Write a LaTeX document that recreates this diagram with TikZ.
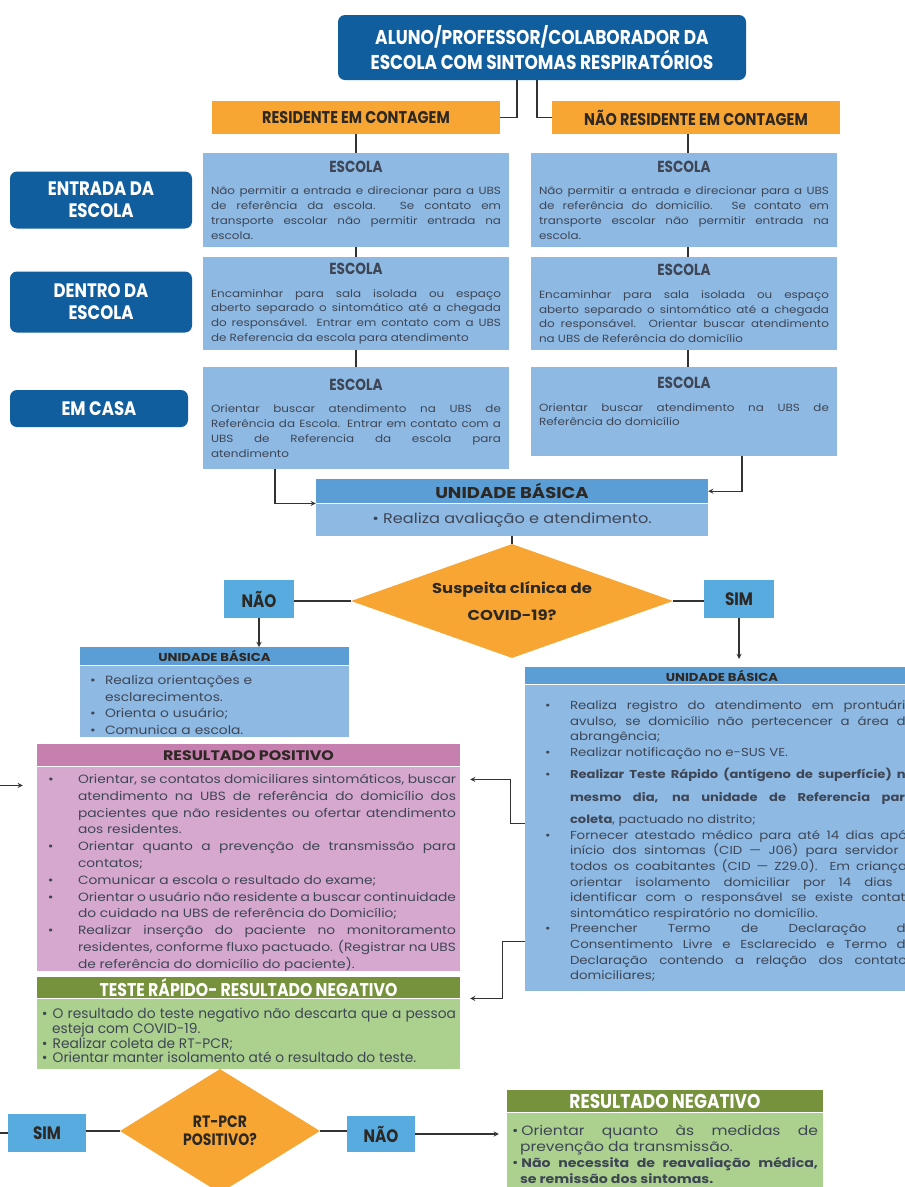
\documentclass[tikz,border=0pt]{standalone}
\usepackage{fontspec}
\setmainfont{Poppins}[FakeStretch=1.15]
\newfontfamily\headfont{Poppins}[FakeStretch=0.85]
\newfontfamily\plainfont{Poppins}
\usepackage{enumitem}
\setlist[itemize]{nosep, label=\textbullet, align=left}
\setlength{\parindent}{0pt}
\hyphenpenalty=10000
\exhyphenpenalty=10000
\usetikzlibrary{shapes.geometric, positioning}
\definecolor{escolaBlue}{RGB}{17, 94, 158}
\definecolor{contagemOrange}{RGB}{247, 166, 52}
\definecolor{boxBlue}{RGB}{141, 185, 227}
\definecolor{headBlue}{RGB}{91, 158, 213}
\definecolor{tagBlue}{RGB}{88, 171, 222}
\definecolor{posPink}{RGB}{214, 168, 208}
\definecolor{posHead}{RGB}{198, 128, 176}
\definecolor{negGreen}{RGB}{172, 209, 142}
\definecolor{negHead}{RGB}{118, 146, 60}
\definecolor{inkDark}{RGB}{45, 40, 35}
\definecolor{bodyInk}{RGB}{62, 70, 86}
\definecolor{lineGray}{RGB}{50, 50, 50}

\begin{document}
\begin{tikzpicture}[x=1pt, y=-1pt, >=stealth,
    link/.style={draw=lineGray, line width=1.3pt},
    navybox/.style={fill=escolaBlue, rounded corners=7pt, text=white, align=center, inner sep=0pt},
    contagem/.style={fill=contagemOrange, minimum height=33pt, text=inkDark, inner sep=0pt, font=\headfont\bfseries\fontsize{17}{20}\selectfont},
    escolabox/.style={fill=boxBlue, text width=290pt, inner xsep=8pt, inner ysep=4pt, align=justify, text=bodyInk, font=\fontsize{10.4}{14.8}\selectfont},
    answer/.style={fill=tagBlue, text=inkDark, inner sep=0pt, font=\headfont\bfseries\fontsize{18}{20}\selectfont},
    choice/.style={diamond, fill=contagemOrange, inner sep=0pt, align=center, text=inkDark},
    headbar/.style={inner sep=0pt, anchor=north, text=inkDark},
    listbox/.style={anchor=north, inner ysep=0pt, text=bodyInk}]
    \useasboundingbox[fill=white] (0,0) rectangle (905,1187);

    \node[navybox, minimum width=408pt, minimum height=65pt, font=\headfont\bfseries\fontsize{20}{22}\selectfont] (aluno) at (542,47.5) {ALUNO/PROFESSOR/COLABORADOR DA\\ESCOLA COM SINTOMAS RESPIRATÓRIOS};
    \node[contagem, minimum width=288pt] (res) at (356,117.5) {RESIDENTE EM CONTAGEM};
    \node[contagem, minimum width=288pt] (nres) at (696,117.5) {NÃO RESIDENTE EM CONTAGEM};

    \node[navybox, minimum width=182pt, minimum height=57pt, font=\headfont\bfseries\fontsize{19.5}{22}\selectfont] (entrada) at (101,200) {ENTRADA DA\\ESCOLA};
    \node[navybox, minimum width=182pt, minimum height=61pt, font=\headfont\bfseries\fontsize{19.5}{22}\selectfont] (dentro) at (101,302) {DENTRO DA\\ESCOLA};
    \node[navybox, minimum width=178pt, minimum height=37pt, font=\headfont\bfseries\fontsize{19.5}{22}\selectfont] (casa) at (99,408.5) {EM CASA};

    \node[escolabox, minimum height=94pt] (ent1) at (356,200) {{\centering\headfont\bfseries\fontsize{16}{18}\selectfont ESCOLA\par}\vspace{8pt}Não permitir a entrada e direcionar para a UBS\linebreak de referência da escola. Se contato em\linebreak transporte escolar não permitir entrada na\linebreak escola.};
    \node[escolabox, minimum height=94pt] (ent2) at (684,200) {{\centering\headfont\bfseries\fontsize{16}{18}\selectfont ESCOLA\par}\vspace{8pt}Não permitir a entrada e direcionar para a UBS\linebreak de referência do domicílio. Se contato em\linebreak transporte escolar não permitir entrada na\linebreak escola.};
    \node[escolabox, minimum height=93pt] (den1) at (356,303.5) {{\centering\headfont\bfseries\fontsize{16}{18}\selectfont ESCOLA\par}\vspace{8pt}Encaminhar para sala isolada ou espaço\linebreak aberto separado o sintomático até a chegada\linebreak do responsável. Entrar em contato com a UBS\linebreak de Referencia da escola para atendimento};
    \node[escolabox, minimum height=93pt] (den2) at (684,303.5) {{\centering\headfont\bfseries\fontsize{16}{18}\selectfont ESCOLA\par}\vspace{8pt}Encaminhar para sala isolada ou espaço\linebreak aberto separado o sintomático até a chegada\linebreak do responsável. Orientar buscar atendimento\linebreak na UBS de Referência do domicílio};
    \node[escolabox, minimum height=102pt] (casa1) at (356,418) {{\centering\headfont\bfseries\fontsize{16}{18}\selectfont ESCOLA\par}\vspace{8pt}Orientar buscar atendimento na UBS de\linebreak Referência da Escola. Entrar em contato com a\linebreak UBS de Referencia da escola para\linebreak atendimento};
    \node[escolabox, minimum height=89pt] (casa2) at (684,411.5) {{\centering\headfont\bfseries\fontsize{16}{18}\selectfont ESCOLA\par}\vspace{8pt}Orientar buscar atendimento na UBS de\linebreak Referência do domicílio\par\vspace*{20pt}};

    \draw[link] ([xshift=-25pt]aluno.south) |- (res.east);
    \draw[link] ([xshift=-5pt]aluno.south) |- (nres.west);
    \draw[link] (res) -- (ent1);
    \draw[link] (ent1) -- (den1);
    \draw[link] (den1) -- (casa1);
    \draw[link] ([xshift=-8pt]nres.south) -- ([xshift=-8pt]nres.south |- ent2.north);
    \draw[link] ([xshift=4pt]ent2.south) -- ([xshift=4pt]den2.north);
    \draw[link] ([xshift=4pt]den2.south) -- ([xshift=4pt]casa2.north);

    \node[headbar, fill=headBlue, minimum width=392pt, minimum height=24pt, font=\bfseries\fontsize{15.7}{18}\selectfont] (ubs) at (512,479) {UNIDADE BÁSICA};
    \node[listbox, fill=boxBlue, minimum width=392pt, minimum height=32pt, font=\fontsize{14}{16}\selectfont] (ubsbody) at (ubs.south) {\textbullet\ Realiza avaliação e atendimento.};
    \draw[link, ->] ([xshift=-81pt]casa1.south) |- (ubs.south west);
    \draw[link, ->] ([xshift=58pt]casa2.south) |- (ubs.east);

    \node[choice, aspect=2.8, minimum width=322pt, minimum height=114pt, font=\bfseries\fontsize{14.3}{27}\selectfont] (suspeita) at (512,601) {Suspeita clínica de\\COVID-19?};
    \node[answer, minimum width=70pt, minimum height=38pt] (nao) at (259,599) {NÃO};
    \node[answer, minimum width=70pt, minimum height=38pt] (sim) at (739,599) {SIM};
    \draw[link] (ubsbody) -- (suspeita);
    \draw[link] (suspeita.west) -- (suspeita.west -| nao.east);
    \draw[link] (suspeita.east) -- (suspeita.east -| sim.west);

    \node[headbar, fill=headBlue, minimum width=269pt, minimum height=18pt, font=\bfseries\fontsize{11.5}{13}\selectfont] (ubsl) at (214.5,647) {UNIDADE BÁSICA};
    \node[listbox, fill=boxBlue, text width=259pt, inner xsep=5pt, minimum height=71pt, align=left, font=\fontsize{12}{16.6}\selectfont] (ubslbody) at (ubsl.south) {\begin{itemize}[leftmargin=20pt, labelindent=5pt, labelwidth=7pt, labelsep=8pt]
        \item Realiza orientações e esclarecimentos.
        \item Orienta o usuário;
        \item Comunica a escola.
    \end{itemize}};
    \draw[link, ->] (nao.south) -- (nao.south |- ubsl.north);

    \node[headbar, fill=headBlue, minimum width=394pt, minimum height=17pt, font=\bfseries\fontsize{11.5}{13}\selectfont] (ubsr) at (722,667) {UNIDADE BÁSICA};
    \node[listbox, fill=boxBlue, text width=384pt, inner xsep=5pt, minimum height=306pt, align=justify, font=\fontsize{11.6}{15.6}\selectfont] (ubsrbody) at (ubsr.south) {\begin{itemize}[leftmargin=40pt, labelindent=15pt, labelwidth=8pt, labelsep=17pt]
        \item Realiza registro do atendimento em prontuário\linebreak avulso, se domicílio não pertecencer a área de\linebreak abrangência;
        \item Realizar notificação no e-SUS VE.
        \item {\fontsize{11.4}{22.5}\selectfont\textbf{Realizar Teste Rápido (antígeno de superfície) no\linebreak mesmo dia, na unidade de Referencia para\linebreak coleta}, pactuado no distrito;\par}
        \item Fornecer atestado médico para até 14 dias após\linebreak início dos sintomas (CID — J06) para servidor e\linebreak todos os coabitantes (CID — Z29.0). Em crianças\linebreak orientar isolamento domiciliar por 14 dias e\linebreak identificar com o responsável se existe contato\linebreak sintomático respiratório no domicílio.
        \item Preencher Termo de Declaração de\linebreak Consentimento Livre e Esclarecido e Termo de\linebreak Declaração contendo a relação dos contatos\linebreak domiciliares;
    \end{itemize}};
    \draw[link, ->, shorten >=8pt] (sim.south) -- (sim.south |- ubsr.north);

    \node[headbar, fill=posHead, minimum width=423pt, minimum height=22pt, font=\bfseries\fontsize{13.8}{16}\selectfont] (rph) at (248.5,744) {RESULTADO POSITIVO};
    \node[listbox, fill=posPink, text width=415pt, inner xsep=4pt, minimum height=204pt, align=justify, font=\fontsize{12}{16.8}\selectfont] (rpbody) at (rph.south) {\begin{itemize}[leftmargin=37pt, labelindent=7pt, labelwidth=8pt, labelsep=22pt]
        \item Orientar, se contatos domiciliares sintomáticos, buscar atendimento na UBS de referência do domicílio dos pacientes que não residentes ou ofertar atendimento aos residentes.
        \item Orientar quanto a prevenção de transmissão para contatos;
        \item Comunicar a escola o resultado do exame;
        \item Orientar o usuário não residente a buscar continuidade do cuidado na UBS de referência do Domicílio;
        \item Realizar inserção do paciente no monitoramento residentes, conforme fluxo pactuado. (Registrar na UBS de referência do domicílio do paciente).
    \end{itemize}};
    \draw[link, ->, shorten >=10pt] ([yshift=-139pt]ubsrbody.north west) -- ++(-14,0) |- ([yshift=-13pt]rpbody.north east);

    \node[headbar, fill=negHead, minimum width=423pt, minimum height=21pt, text=white, font=\headfont\bfseries\fontsize{18.5}{20}\selectfont] (trh) at (248.5,977) {TESTE RÁPIDO- RESULTADO NEGATIVO};
    \node[listbox, fill=negGreen, text width=415pt, inner xsep=4pt, minimum height=70pt, align=justify, font=\plainfont\fontsize{13.8}{14.6}\selectfont] (trbody) at (trh.south) {\begin{itemize}[leftmargin=11pt, labelindent=1pt, labelwidth=5pt, labelsep=5pt]
        \item O resultado do teste negativo não descarta que a pessoa esteja com COVID-19.
        \item Realizar coleta de RT-PCR;
        \item Orientar manter isolamento até o resultado do teste.
    \end{itemize}};
    \draw[link, ->, shorten >=10pt] ([yshift=-257pt]ubsrbody.north west) -- ++(-22,0) |- (trh.south east);

    \node[choice, aspect=1.6, minimum width=200pt, minimum height=124pt, font=\headfont\bfseries\fontsize{16.5}{18}\selectfont] (rtpcr) at (220,1131) {RT-PCR\\POSITIVO?};
    \node[answer, minimum width=78pt, minimum height=38pt] (sim2) at (47,1133) {SIM};
    \node[answer, minimum width=68pt, minimum height=36pt] (nao2) at (381,1134) {NÃO};

    \node[headbar, fill=negHead, minimum width=316pt, minimum height=22pt, text=white, font=\headfont\bfseries\fontsize{20}{22}\selectfont] (rnh) at (665,1090) {RESULTADO NEGATIVO};
    \node[listbox, fill=negGreen, text width=306pt, inner xsep=5pt, minimum height=78pt, align=justify, font=\fontsize{13.5}{16}\selectfont] (rnbody) at (rnh.south) {\begin{itemize}[leftmargin=8pt, labelindent=0pt, labelwidth=5pt, labelsep=3pt]
        \item Orientar quanto às medidas de\linebreak prevenção da transmissão.
        \item {\fontsize{12.3}{16}\selectfont\textbf{Não necessita de reavaliação médica,\linebreak se remissão dos sintomas.}\par}
    \end{itemize}};

    \draw[link] (rtpcr.north |- trbody.south) -- (rtpcr.north);
    \draw[link] (rtpcr.west) -- (rtpcr.west -| sim2.east);
    \draw[link] (rtpcr.east) -- (rtpcr.east -| nao2.west);
    \draw[link, ->, shorten >=8pt] (nao2.east) -- (nao2.east -| rnbody.west);
    \draw[link, ->, shorten >=14pt] (sim2.west) -- ++(-20,0) |- ([yshift=-19pt]rpbody.north west);
\end{tikzpicture}
\end{document}
